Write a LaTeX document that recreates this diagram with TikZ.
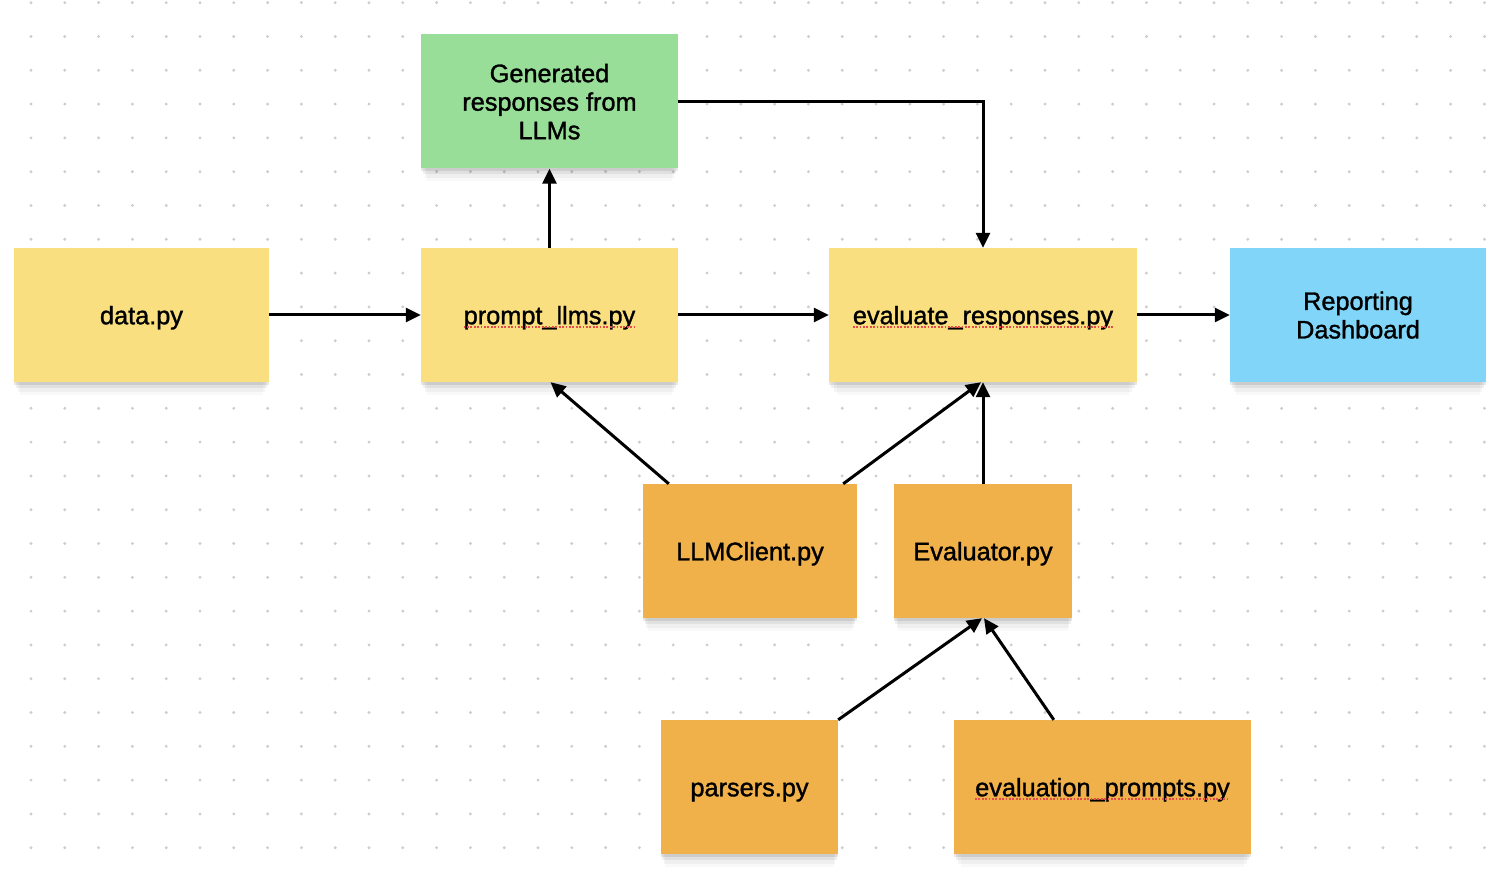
\documentclass[tikz,border=0pt]{standalone}
\usepackage{fontspec}
\setmainfont{Liberation Sans}[FakeBold=1.3]
\usetikzlibrary{arrows.meta,shadows,calc}
\definecolor{cyel}{RGB}{249,223,128}
\definecolor{cgrn}{RGB}{152,221,152}
\definecolor{cblu}{RGB}{128,213,248}
\definecolor{corg}{RGB}{240,176,74}
\definecolor{cdot}{RGB}{205,205,205}
\definecolor{cred}{RGB}{230,75,75}
\tikzset{
  box/.style={inner sep=0pt, minimum height=134pt, align=center, text depth=0pt, font=\fontsize{25.3}{28.5}\selectfont,
    drop shadow={shadow xshift=0pt,shadow yshift=-3pt,opacity=0.09,fill=black},
    drop shadow={shadow xshift=0pt,shadow yshift=-7pt,opacity=0.06,fill=black,shadow scale=0.985},
    drop shadow={shadow xshift=0pt,shadow yshift=-12pt,opacity=0.04,fill=black,shadow scale=0.97},
    drop shadow={shadow xshift=0pt,shadow yshift=-17pt,opacity=0.025,fill=black,shadow scale=0.95}},
  oneline/.style={text height=18.5pt, text depth=0pt},
  txt/.style={inner sep=0pt, oneline, font=\fontsize{25.3}{28.5}\selectfont},
  arr/.style={line width=3pt, -{Triangle[length=15pt,width=14pt]}},
  squig/.style={cred, line width=1.8pt, dash pattern=on 1.8pt off 1.6pt},
}
\begin{document}
\begin{tikzpicture}[x=1pt,y=-1pt]
\useasboundingbox[fill=white] (0,0) rectangle (1504,874);
\foreach \i in {0,...,43}{\foreach \j in {0,...,25}{\fill[cdot] ({31+33.8*\i},{2.7+33.8*\j}) circle (1.6);}}
% nodes
\node[box, fill=cgrn, minimum width=257pt] (gen) at (549.5,101.5) {Generated\\responses from\\LLMs};
\node[box, oneline, fill=cyel, minimum width=255pt] (data) at (141.5,315) {data.py};
\node[box, fill=cyel, minimum width=257pt] (prompt) at (549.5,315) {};
\node[box, fill=cyel, minimum width=308pt] (eval) at (983,315) {};
\node[box, fill=cblu, minimum width=256pt] (dash) at (1358,315) {Reporting\\Dashboard};
\node[box, oneline, fill=corg, minimum width=214pt] (llm) at (750,551) {LLMClient.py};
\node[box, oneline, fill=corg, minimum width=178pt] (evaluator) at (983,551) {Evaluator.py};
\node[box, oneline, fill=corg, minimum width=177pt] (parsers) at (749.5,787) {parsers.py};
\node[box, fill=corg, minimum width=297pt] (evp) at (1102.5,787) {};
% text with spell-check underline
\node[txt] (tprompt) at (prompt) {prompt\_llms.py};
\node[txt] (teval) at (eval) {evaluate\_responses.py};
\node[txt] (tevp) at (evp) {evaluation\_prompts.py};
\foreach \t in {tprompt,teval,tevp}{\draw[squig] ([yshift=-3pt]\t.base west) -- ([yshift=-3pt]\t.base east);}
% connectors
\draw[arr] (data.east) -- (prompt.west);
\draw[arr] (prompt.east) -- (eval.west);
\draw[arr] (eval.east) -- (dash.west);
\draw[arr] (prompt.north) -- (gen.south);
\draw[arr] (gen.east) -| (eval.north);
\draw[arr] ($(llm.north west)+(26,0)$) -- ($(prompt.south)+(1,0)$);
\draw[arr] ($(llm.north east)+(-14,0)$) -- ($(eval.south)+(-2,0)$);
\draw[arr] (evaluator.north) -- (eval.south);
\draw[arr] (parsers.north east) -- ($(evaluator.south)+(-1,0)$);
\draw[arr] ($(evp.north west)+(100,0)$) -- ($(evaluator.south)+(1,0)$);
\end{tikzpicture}
\end{document}
